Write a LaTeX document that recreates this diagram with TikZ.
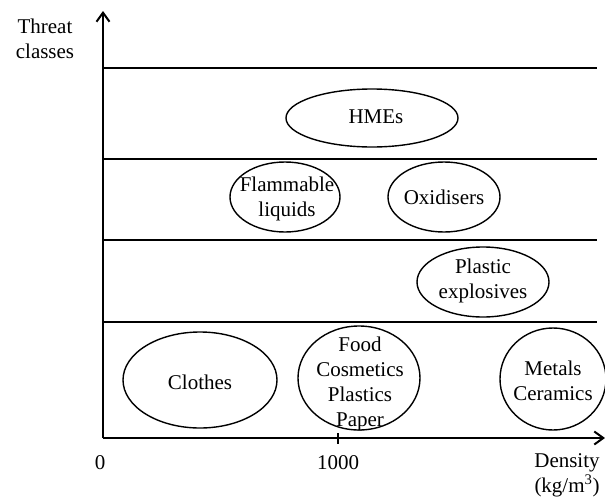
\documentclass[tikz,border=0pt]{standalone}
\usepackage{fontspec}
\setmainfont{Liberation Serif}
\usetikzlibrary{arrows.meta,shapes.geometric}
\begin{document}
\begin{tikzpicture}[x=1pt,y=-1pt,
  every node/.style={font=\fontsize{21}{25}\selectfont, inner sep=0pt, align=center},
  axis/.style={line width=2.6pt, -{Straight Barb[length=9pt,width=13pt,line width=2pt]}},
  band/.style={line width=1.8pt},
  cls/.style={line width=1.4pt}]
\useasboundingbox (0,0) rectangle (605,498);

% axes
\coordinate (O) at (103,438);
\coordinate (ytop) at (103,11);
\coordinate (xend) at (605,438);
\draw[axis] (O) -- (ytop);
\draw[axis] (O) -- (xend);

% class boundaries
\foreach \yy/\nm in {68/b1,159/b2,240/b3,322/b4}{
  \coordinate (\nm l) at (103,\yy);
  \coordinate (\nm r) at (597,\yy);
  \draw[band] (\nm l) -- (\nm r);
}

% tick at 1000
\coordinate (t1) at (338,433);
\coordinate (t2) at (338,444);
\draw[line width=1.5pt] (t1) -- (t2);

% axis labels
\node (ylab) at (45,39) {Threat\\classes};
\node (x0) at (100,463) {0};
\node (x1000) at (338,463) {1000};
\node (xlab) at (567,475) {Density\\(kg/m\textsuperscript{3})};

% threat classes and materials
\draw[cls] (372,118) ellipse [x radius=86, y radius=29];
\node (hme) at (376,117) {HMEs};

\draw[cls] (285,197) ellipse [x radius=55, y radius=35];
\node (flam) at (287,199) {Flammable\\liquids};

\draw[cls] (444,197) ellipse [x radius=56, y radius=35];
\node (oxi) at (444,197) {Oxidisers};

\draw[cls] (483,282) ellipse [x radius=66, y radius=35];
\node (plex) at (483,281) {Plastic\\explosives};

\draw[cls] (200,380) ellipse [x radius=77, y radius=48];
\node (cloth) at (200,382) {Clothes};

\draw[cls] (359,378) ellipse [x radius=61, y radius=52];
\node (food) at (360,384) {Food\\Cosmetics\\Plastics\\Paper};

\draw[cls] (553,379) ellipse [x radius=53, y radius=51];
\node (metal) at (553,381) {Metals\\Ceramics};
\end{tikzpicture}
\end{document}
